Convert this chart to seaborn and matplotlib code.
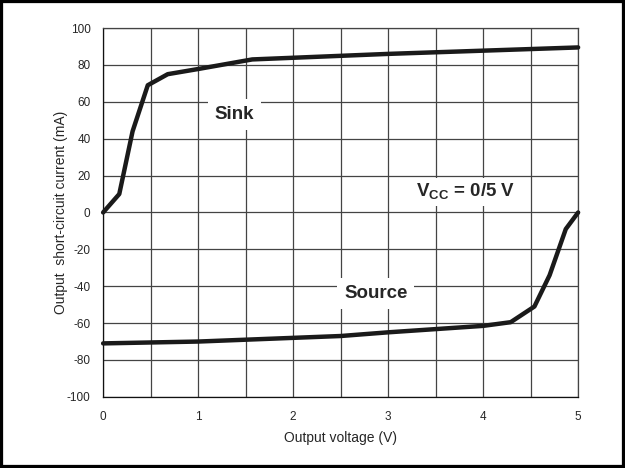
import matplotlib
matplotlib.use("Agg")
import matplotlib.pyplot as plt
import seaborn as sns
import pandas as pd
from matplotlib.patches import Rectangle

sink_v = [0.0, 0.17, 0.31, 0.47, 0.68, 1.0, 1.57, 3.0, 5.0]
sink_i = [0.0, 10.0, 44.0, 69.0, 75.0, 77.8, 83.0, 86.0, 89.5]
source_v = [0.0, 1.0, 2.0, 2.5, 3.0, 4.0, 4.29, 4.54, 4.7, 4.87, 5.0]
source_i = [-71.0, -70.0, -68.0, -67.0, -65.0, -61.5, -59.5, -51.0, -34.0, -9.0, 0.0]
x_ticks = [0, 1, 2, 3, 4, 5]
y_ticks = list(range(-100, 101, 20))

sns.set_style("white")
plt.rcParams['font.family'] = ['Liberation Sans', 'DejaVu Sans']
plt.rcParams['mathtext.fontset'] = 'custom'
plt.rcParams['mathtext.bf'] = 'Liberation Sans:bold'
plt.rcParams['mathtext.rm'] = 'Liberation Sans'

fig = plt.figure(figsize=(6.25, 4.68), dpi=100)
ax = fig.add_axes([0.165, 0.152, 0.76, 0.788])

df_sink = pd.DataFrame({"v": sink_v, "i": sink_i})
df_src = pd.DataFrame({"v": source_v, "i": source_i})
sns.lineplot(data=df_sink, x="v", y="i", ax=ax, color="#1a1a1a", linewidth=3.2,
             sort=False, clip_on=False, zorder=5)
sns.lineplot(data=df_src, x="v", y="i", ax=ax, color="#1a1a1a", linewidth=3.2,
             sort=False, clip_on=False, zorder=5)

ax.set_xlim(0, 5)
ax.set_ylim(-100, 100)
ax.set_xticks(x_ticks)
ax.set_xticks([0.5, 1.5, 2.5, 3.5, 4.5], minor=True)
ax.set_yticks(y_ticks)
ax.set_xticklabels([str(t) for t in x_ticks], fontsize=8.5)
ax.set_yticklabels([str(t) for t in y_ticks], fontsize=8.5)
ax.tick_params(axis='x', which='both', length=0, pad=10)
ax.tick_params(axis='y', which='both', direction='in', length=3, width=0.9,
               color='#111111', pad=9)
ax.grid(True, which='both', color='#444444', linewidth=0.9)
ax.set_axisbelow(True)
for s in ax.spines.values():
    s.set_color('#444444')
    s.set_linewidth(0.9)
ax.spines['left'].set_color('#111111')
ax.spines['bottom'].set_color('#111111')

ax.set_xlabel("Output voltage (V)", fontsize=10, labelpad=6)
ax.set_ylabel("Output  short-circuit current (mA)", fontsize=10, labelpad=-1)

box = dict(facecolor='white', edgecolor='none', pad=5)
ax.text(1.38, 53, "Sink", fontsize=13.5, fontweight='bold', ha='center', va='center',
        bbox=box, zorder=3)
ax.text(2.87, -44, "Source", fontsize=13.5, fontweight='bold', ha='center', va='center',
        bbox=box, zorder=3)
ax.text(3.82, 11, r"V$_{\mathbf{CC}}$ = 0/5 V", fontsize=13.5, fontweight='bold',
        ha='center', va='center', bbox=dict(facecolor='white', edgecolor='none', pad=3),
        zorder=3)

fig.patches.append(Rectangle((0, 0), 1, 1, transform=fig.transFigure,
                             fill=False, edgecolor='black', linewidth=4.5))

fig.savefig("out.png", dpi=100)
